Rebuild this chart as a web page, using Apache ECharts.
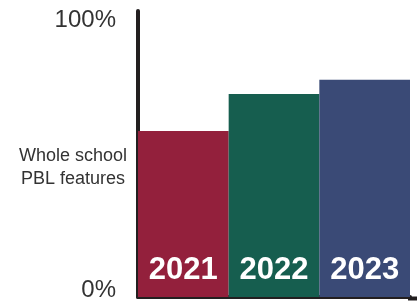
<!DOCTYPE html>
<html>
<head>
<meta charset="utf-8">
<script src="https://cdn.jsdelivr.net/npm/echarts@6/dist/echarts.min.js"></script>
<style>
  html, body { margin: 0; padding: 0; background: #fff; }
  #chart { width: 417px; height: 302px; }
</style>
</head>
<body>
<div id="chart"></div>
<script>
// --- data ---
const years = ['2021', '2022', '2023'];
const values = [58, 71, 76];
const barColors = ['#93203c', '#165e4f', '#3a4a76'];
const yTicks = ['0%', '100%'];
const rowLabel = 'Whole school\nPBL features';

const chart = echarts.init(document.getElementById('chart'));

chart.setOption({
    animation: false,
    grid: { left: 138, right: 7, top: 11, bottom: 3.5 },
    xAxis: {
        type: 'category',
        data: years,
        axisLine: { lineStyle: { color: '#231f20', width: 4 } },
        axisTick: { show: false },
        axisLabel: { show: false }
    },
    yAxis: {
        type: 'value',
        min: 0,
        max: 100,
        interval: 100,
        splitLine: { show: false },
        axisTick: { show: false },
        axisLine: { show: true, lineStyle: { color: '#231f20', width: 4 } },
        axisLabel: {
            margin: 22,
            formatter: (v) => v === 100 ? '{top|' + yTicks[1] + '}' : '{bot|' + yTicks[0] + '}',
            rich: {
                top: { fontSize: 24, color: '#333', fontFamily: 'Liberation Sans, Arial, sans-serif', padding: [18, 0, 0, 0] },
                bot: { fontSize: 24, color: '#333', fontFamily: 'Liberation Sans, Arial, sans-serif', padding: [0, 0, 14, 0] }
            }
        }
    },
    series: [{
        type: 'bar',
        barCategoryGap: '0%',
        data: values.map((v, i) => ({ value: v, itemStyle: { color: barColors[i] } })),
        label: {
            show: true,
            position: 'insideBottom',
            distance: 11,
            formatter: (p) => years[p.dataIndex],
            color: '#fff',
            fontWeight: 'bold',
            fontSize: 31,
            fontFamily: 'Liberation Sans, Arial, sans-serif'
        }
    }],
    graphic: [
        {
            type: 'text',
            x: 73,
            y: 168,
            style: {
                text: rowLabel,
                fontSize: 18,
                lineHeight: 23,
                fill: '#333',
                align: 'center',
                verticalAlign: 'middle',
                fontFamily: 'Liberation Sans, Arial, sans-serif'
            }
        },
        {
            type: 'line',
            shape: { x1: 408, y1: 298.5, x2: 417, y2: 298.5 },
            style: { stroke: '#231f20', lineWidth: 4 }
        }
    ]
});
</script>
</body>
</html>
